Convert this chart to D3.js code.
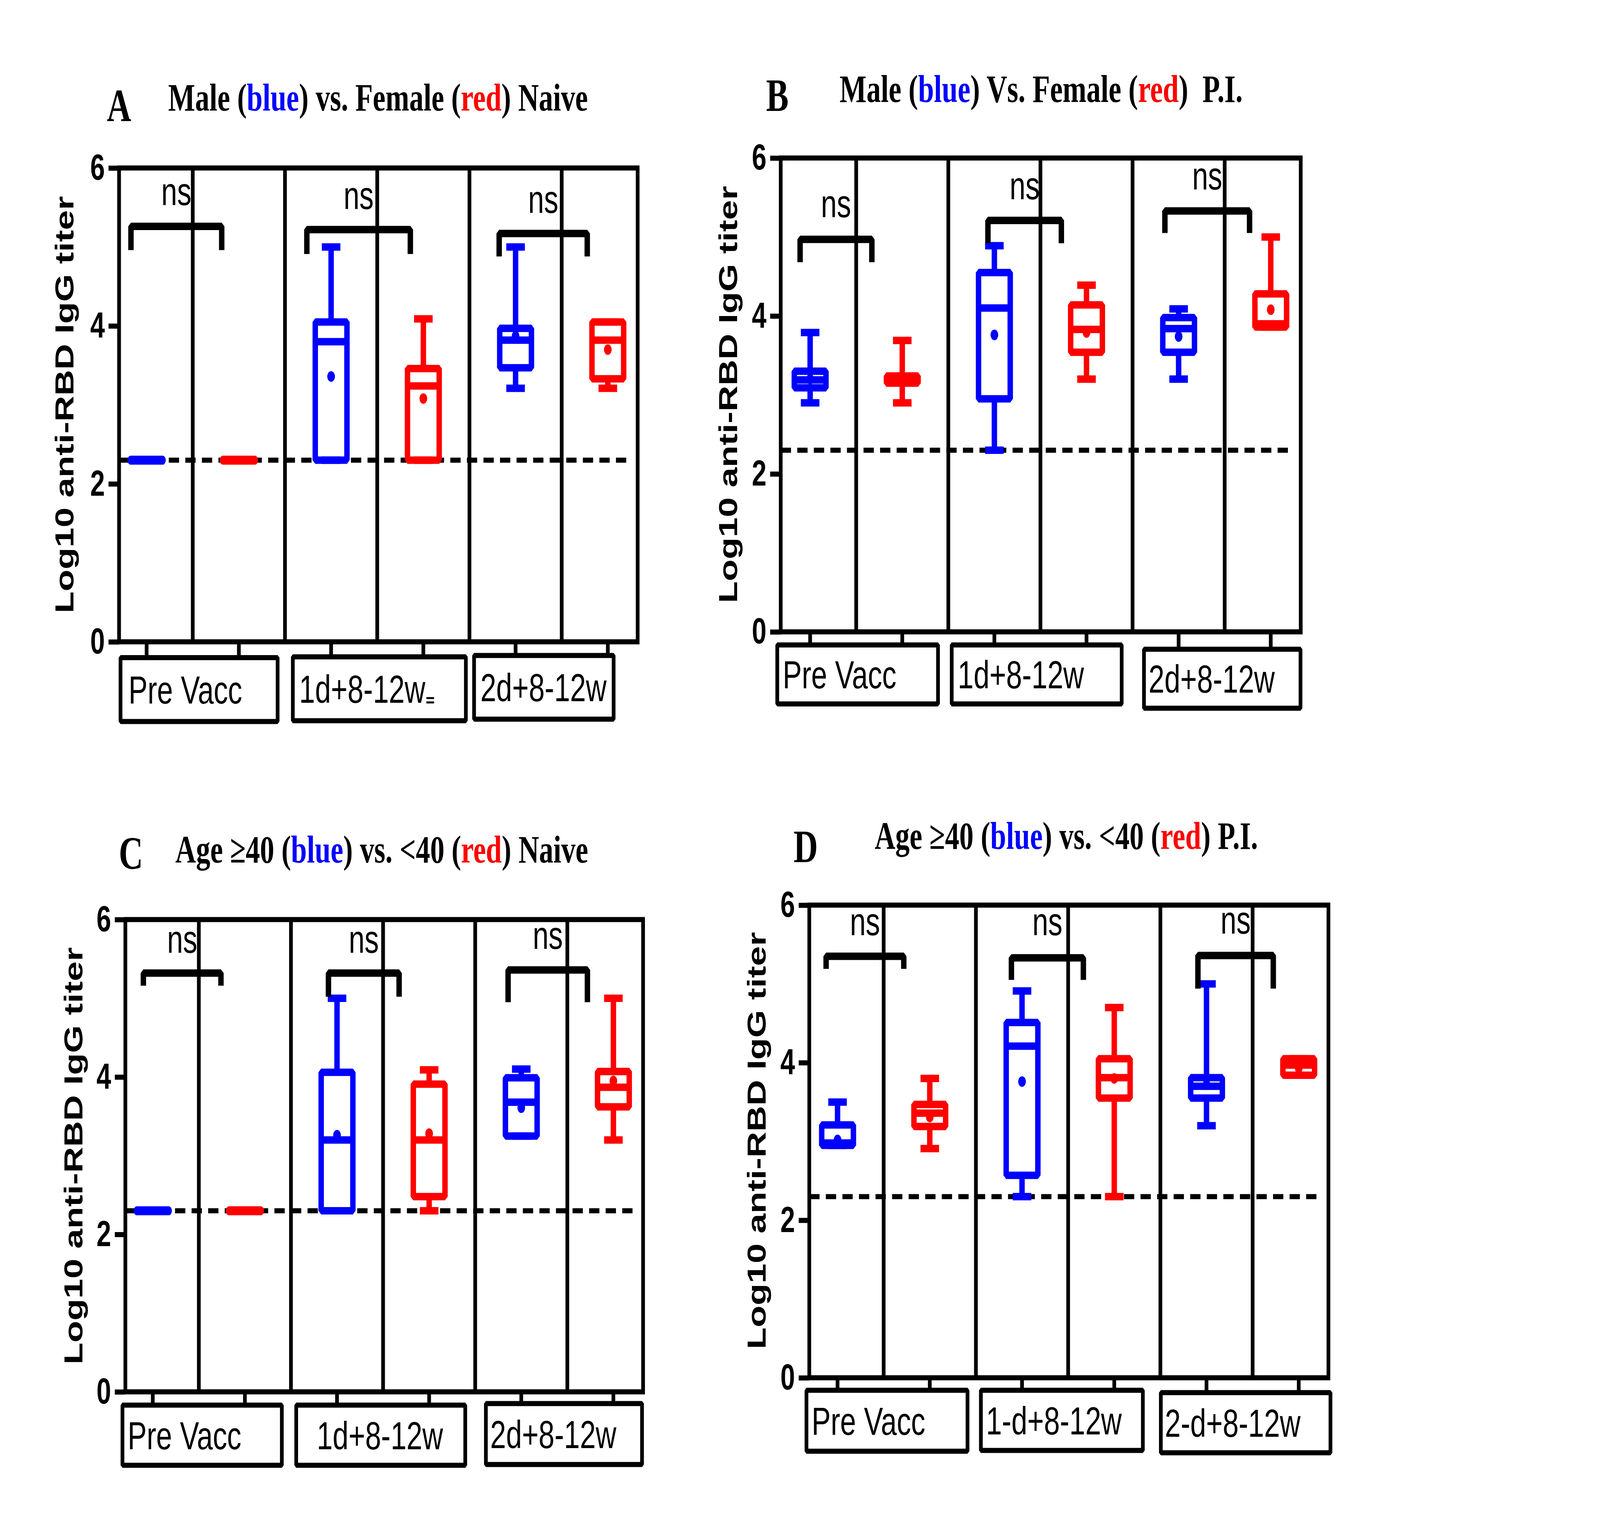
<!DOCTYPE html>
<html>
<head>
<meta charset="utf-8">
<script src="https://cdn.jsdelivr.net/npm/d3@7"></script>
<style>
  html, body { margin: 0; padding: 0; width: 100%; height: 100%; overflow: hidden; background: #fff; }
  #chart { width: 100vw; height: 100vh; }
  svg { display: block; }
</style>
</head>
<body>
<div id="chart"></div>
<script>
// categories
const groupsA = ["Pre Vacc", "1d+8-12w\u208C", "2d+8-12w"];
const groupsB = ["Pre Vacc", "1d+8-12w", "2d+8-12w"];
const groupsC = ["Pre Vacc", "1d+8-12w", "2d+8-12w"];
const groupsD = ["Pre Vacc", "1-d+8-12w", "2-d+8-12w"];
const series = ["blue", "red"];
const yTicks = [0, 2, 4, 6];
const lod = 2.3;
const sigLabel = "ns";

// titles: [text, colour part, text, colour part, text]
const titleA = ["Male (", "blue", ") vs. Female (", "red", ") Naive"];
const titleB = ["Male (", "blue", ") Vs. Female (", "red", ")  P.I."];
const titleC = ["Age \u226540 (", "blue", ") vs. <40 (", "red", ") Naive"];
const titleD = ["Age \u226540 (", "blue", ") vs. <40 (", "red", ") P.I."];

// box stats per group: [min, q1, median, q3, max, mean]
const maleNaive    = [[2.3, 2.3, 2.3, 2.3, 2.3, 2.3], [2.3, 2.3, 3.80, 4.05, 5.0, 3.36], [3.21, 3.47, 3.82, 3.97, 5.0, 3.87]];
const femaleNaive  = [[2.3, 2.3, 2.3, 2.3, 2.3, 2.3], [2.3, 2.3, 3.24, 3.46, 4.09, 3.08], [3.21, 3.33, 3.82, 4.05, 4.05, 3.70]];
const malePI       = [[2.90, 3.09, 3.19, 3.30, 3.79, 3.20], [2.30, 2.95, 4.10, 4.55, 4.89, 3.76], [3.20, 3.54, 3.84, 3.98, 4.09, 3.74]];
const femalePI     = [[2.90, 3.15, 3.20, 3.24, 3.69, 3.20], [3.20, 3.54, 3.83, 4.14, 4.39, 3.79], [3.86, 3.86, 3.90, 4.28, 5.0, 4.08]];
const olderNaive   = [[2.3, 2.3, 2.3, 2.3, 2.3, 2.3], [2.3, 2.3, 3.20, 4.06, 5.0, 3.26], [3.25, 3.25, 3.68, 3.99, 4.10, 3.61]];
const youngerNaive = [[2.3, 2.3, 2.3, 2.3, 2.3, 2.3], [2.3, 2.48, 3.20, 3.91, 4.09, 3.28], [3.20, 3.62, 3.87, 4.07, 5.0, 3.95]];
const olderPI      = [[2.95, 2.95, 2.98, 3.21, 3.50, 3.02], [2.30, 2.57, 4.21, 4.51, 4.91, 3.76], [3.20, 3.55, 3.70, 3.81, 5.0, 3.72]];
const youngerPI    = [[2.91, 3.19, 3.36, 3.47, 3.80, 3.31], [2.30, 3.55, 3.81, 4.05, 4.70, 3.80], [3.84, 3.84, 3.97, 4.05, 4.05, 3.93]];

// layout of each panel (pixels), brackets: [bar y, arm end y, left / right offset in steps, ns y]
// label boxes: [left / right offset in steps from blue, top / bottom gap below axis, text inset]
const panels = [
  { letter: "A", title: titleA, groups: groupsA, blue: maleNaive, red: femaleNaive,
    frame: {l: 417, t: 430, r: 2233, b: 1643}, pos: [513.5, 2128.5],
    letterPos: [374, 310], titlePos: [589, 283], ylab: [257, 1036],
    brackets: [[5.26, 4.96, -0.17, -0.186, 5.53], [5.22, 4.91, -0.263, -0.141, 5.48], [5.17, 4.88, -0.178, -0.223, 5.43]],
    boxes: [[-0.283, 1.42, 40.5, 204, 32], [-0.415, 1.461, 38.5, 202, 26], [-0.45, 1.063, 35, 198, 26]] },
  { letter: "B", title: titleB, groups: groupsB, blue: malePI, red: femalePI,
    frame: {l: 2734, t: 404.5, r: 4555, b: 1617.5}, pos: [2837, 4450],
    letterPos: [2683, 284], titlePos: [2940, 261], ylab: [2581, 1010],
    brackets: [[4.97, 4.68, -0.109, -0.33, 5.25], [5.21, 4.92, -0.07, -0.273, 5.48], [5.33, 5.05, -0.149, -0.23, 5.60]],
    boxes: [[-0.357, 1.388, 33.5, 184.5, 23], [-0.463, 1.382, 33.5, 184.5, 25], [-0.376, 1.323, 44.5, 195.5, 20]] },
  { letter: "C", title: titleC, groups: groupsC, blue: olderNaive, red: youngerNaive,
    frame: {l: 439, t: 2354, r: 2252, b: 3563}, pos: [535, 2148],
    letterPos: [416, 2224], titlePos: [614, 2208], ylab: [288, 2959],
    brackets: [[5.32, 5.16, -0.102, -0.26, 5.58], [5.32, 5.02, -0.093, -0.326, 5.58], [5.36, 4.95, -0.143, -0.282, 5.63]],
    boxes: [[-0.329, 1.401, 34, 188, 22], [-0.443, 1.392, 34, 188, 76], [-0.384, 1.311, 30, 186, 19]] },
  { letter: "D", title: titleD, groups: groupsD, blue: olderPI, red: youngerPI,
    frame: {l: 2834, t: 2317, r: 4652, b: 3527}, pos: [2933, 4548],
    letterPos: [2779, 2207], titlePos: [3063, 2173], ylab: [2681, 2920],
    brackets: [[5.35, 5.19, -0.124, -0.282, 5.62], [5.33, 5.05, -0.115, -0.335, 5.62], [5.36, 4.94, -0.093, -0.276, 5.64]],
    boxes: [[-0.337, 1.409, 32, 188, 22], [-0.446, 1.31, 32, 186, 22], [-0.495, 1.344, 38, 192, 18]] }
];

const colors = {blue: "#0000ff", red: "#ff0000"};
const sans = "'Liberation Sans', Arial, sans-serif";
const serif = "'Liberation Serif', 'Times New Roman', serif";
const lineW = 13, boxW = 19, halfBox = 55.5, halfCap = 32.5;

// the window may be narrower than the picture, so stretch the drawing over it
const svg = d3.select("#chart").append("svg")
    .attr("viewBox", "0 0 5603 3909")
    .attr("preserveAspectRatio", "none")
    .attr("width", "100%")
    .attr("height", "100%");
svg.append("rect").attr("width", 5603).attr("height", 3909).attr("fill", "#fff");

panels.forEach(drawPanel);

function drawPanel(p) {
  const g = svg.append("g");
  const f = p.frame;
  const keys = [];
  p.groups.forEach((gr, i) => series.forEach(s => keys.push(i + "|" + s)));

  const x = d3.scalePoint().domain(keys).range(p.pos);
  const step = x.step();
  const y = d3.scaleLinear().domain([0, 6]).range([f.b, f.t]);

  // title + panel letter
  g.append("text")
      .attr("x", p.letterPos[0]).attr("y", p.letterPos[1])
      .attr("font-family", serif).attr("font-weight", "bold").attr("font-size", 118)
      .text(p.letter);
  const t = g.append("text")
      .attr("x", p.titlePos[0]).attr("y", p.titlePos[1])
      .attr("font-family", serif).attr("font-weight", "bold").attr("font-size", 100)
      .style("white-space", "pre");
  p.title.forEach((part, i) => {
    t.append("tspan").text(part)
      .attr("fill", i === 1 ? colors.blue : i === 3 ? colors.red : "#000");
  });

  // dashed detection limit
  g.append("line")
      .attr("x1", f.l).attr("x2", f.r - 25)
      .attr("y1", y(lod)).attr("y2", y(lod))
      .attr("stroke", "#000").attr("stroke-width", lineW)
      .attr("stroke-dasharray", "36 22");

  // box plots
  const stats = [];
  p.groups.forEach((gr, i) => {
    stats.push({key: i + "|blue", c: colors.blue, v: p.blue[i]});
    stats.push({key: i + "|red", c: colors.red, v: p.red[i]});
  });

  const bx = g.append("g").selectAll("g").data(stats).join("g");
  const flat = d => d.v[3] === d.v[1];

  // whiskers
  bx.filter(d => !flat(d)).append("path")
      .attr("d", d => {
        const cx = x(d.key), v = d.v;
        return `M${cx},${y(v[4])}V${y(v[3])}M${cx},${y(v[1])}V${y(v[0])}`
          + `M${cx - halfCap},${y(v[4])}H${cx + halfCap}M${cx - halfCap},${y(v[0])}H${cx + halfCap}`;
      })
      .attr("fill", "none").attr("stroke", d => d.c).attr("stroke-width", boxW);

  // box
  bx.filter(d => !flat(d)).append("path")
      .attr("d", d => {
        const cx = x(d.key), v = d.v;
        return `M${cx - halfBox},${y(v[3])}H${cx + halfBox}V${y(v[1])}H${cx - halfBox}Z`;
      })
      .attr("fill", "none").attr("stroke", d => d.c).attr("stroke-width", boxW)
      .attr("stroke-linejoin", "bevel");

  // all-equal groups collapse to a rounded bar
  bx.filter(flat).append("line")
      .attr("x1", d => x(d.key) - halfBox).attr("x2", d => x(d.key) + halfBox)
      .attr("y1", d => y(d.v[2])).attr("y2", d => y(d.v[2]))
      .attr("stroke", d => d.c).attr("stroke-width", boxW + 4)
      .attr("stroke-linecap", "round");

  // median
  bx.filter(d => !flat(d)).append("line")
      .attr("x1", d => x(d.key) - halfBox).attr("x2", d => x(d.key) + halfBox)
      .attr("y1", d => y(d.v[2])).attr("y2", d => y(d.v[2]))
      .attr("stroke", d => d.c).attr("stroke-width", boxW);

  // mean
  bx.filter(d => !flat(d)).append("circle")
      .attr("cx", d => x(d.key)).attr("cy", d => y(d.v[5]))
      .attr("r", 13.5).attr("fill", d => d.c);

  // frame and dividers
  g.append("rect")
      .attr("x", f.l).attr("y", f.t)
      .attr("width", f.r - f.l).attr("height", f.b - f.t)
      .attr("fill", "none").attr("stroke", "#000").attr("stroke-width", lineW);
  g.append("g").selectAll("line")
      .data(d3.pairs(keys))
      .join("line")
      .attr("x1", d => (x(d[0]) + x(d[1])) / 2).attr("x2", d => (x(d[0]) + x(d[1])) / 2)
      .attr("y1", f.t).attr("y2", f.b)
      .attr("stroke", "#000").attr("stroke-width", lineW);

  // y axis
  const yAxis = g.append("g")
      .attr("transform", `translate(${f.l},0)`)
      .call(d3.axisLeft(y).tickValues(yTicks).tickFormat(d3.format("d")).tickSize(37).tickPadding(13));
  yAxis.select(".domain").remove();
  yAxis.selectAll(".tick line").attr("stroke", "#000").attr("stroke-width", lineW);
  yAxis.selectAll(".tick text")
      .attr("font-family", sans).attr("font-weight", "bold").attr("font-size", 92)
      .attr("fill", "#000");

  g.append("text")
      .attr("transform", `translate(${p.ylab[0]},${p.ylab[1]}) rotate(-90)`)
      .attr("text-anchor", "middle")
      .attr("font-family", sans).attr("font-weight", "bold").attr("font-size", 92)
      .text("Log10 anti-RBD IgG titer");

  // x ticks down to each label box
  g.append("g").selectAll("line").data(keys).join("line")
      .attr("x1", d => x(d)).attr("x2", d => x(d))
      .attr("y1", f.b)
      .attr("y2", d => f.b + p.boxes[+d.split("|")[0]][2])
      .attr("stroke", "#000").attr("stroke-width", lineW);

  // category label boxes
  p.groups.forEach((name, i) => {
    const b = p.boxes[i];
    const cx = x(i + "|blue");
    const x0 = cx + b[0] * step, x1 = cx + b[1] * step;
    const y0 = f.b + b[2], y1 = f.b + b[3];
    g.append("rect")
        .attr("x", x0).attr("y", y0).attr("width", x1 - x0).attr("height", y1 - y0)
        .attr("fill", "#fff").attr("stroke", "#000").attr("stroke-width", lineW)
        .attr("stroke-linejoin", "bevel");
    g.append("text")
        .attr("x", x0 + b[4] - 4).attr("y", (y0 + y1) / 2 + 36)
        .attr("font-family", sans).attr("font-size", 100)
        .text(name);
  });

  // significance brackets
  p.brackets.forEach((br, i) => {
    const xl = x(i + "|blue") + br[2] * step;
    const xr = x(i + "|red") + br[3] * step;
    g.append("path")
        .attr("d", `M${xl},${y(br[1])}V${y(br[0])}H${xr}V${y(br[1])}`)
        .attr("fill", "none").attr("stroke", "#000").attr("stroke-width", boxW)
        .attr("stroke-linejoin", "bevel");
    g.append("text")
        .attr("x", (xl + xr) / 2).attr("y", y(br[4]))
        .attr("text-anchor", "middle")
        .attr("font-family", sans).attr("font-size", 100)
        .text(sigLabel);
  });
}
</script>
</body>
</html>
